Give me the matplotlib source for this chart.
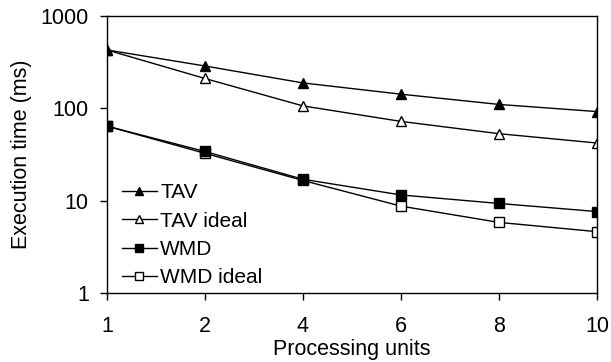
import numpy as np
import matplotlib.pyplot as plt

plt.rcParams['font.family'] = ['Liberation Sans', 'DejaVu Sans']

units = ['1', '2', '4', '6', '8', '10']
tav = [428, 287, 188, 142, 110, 92]
tav_ideal = [428, 210, 106, 72, 53, 42]
wmd = [64, 34, 17, 11.5, 9.3, 7.6]
wmd_ideal = [64, 32.5, 16.5, 8.7, 5.8, 4.6]

fig = plt.figure(figsize=(6.11, 3.62), dpi=100)
ax = fig.add_axes([0.175, 0.191, 0.802, 0.765])

x = np.arange(len(units))
# ideal lines first so the measured markers sit on top at x=1
l2, = ax.plot(x, tav_ideal, color='black', lw=1, marker='^', ms=7, mfc='white', mec='black', label='TAV ideal')
l4, = ax.plot(x, wmd_ideal, color='black', lw=1, marker='s', ms=6.5, mfc='white', mec='black', label='WMD ideal')
l1, = ax.plot(x, tav, color='black', lw=1, marker='^', ms=7.5, mfc='black', mec='black', label='TAV')
l3, = ax.plot(x, wmd, color='black', lw=1, marker='s', ms=7, mfc='black', mec='black', label='WMD')

ax.set_yscale('log')
ax.set_ylim(1, 1000)
ax.set_xlim(0, len(units) - 1)
ax.set_yticks([1, 10, 100, 1000])
ax.set_yticklabels(['1', '10', '100', '1000'])
ax.minorticks_off()
ax.set_xticks(x)
ax.set_xticklabels(units)
ax.tick_params(direction='out', length=5, width=1, labelsize=15.5)
ax.tick_params(axis='x', pad=12)
ax.tick_params(axis='y', pad=8)
for s in ax.spines.values():
    s.set_linewidth(1)

ax.set_xlabel('Processing units', fontsize=15.5, labelpad=1)
ax.set_ylabel('Execution time (ms)', fontsize=15.5, labelpad=6)

ax.legend([l1, l2, l3, l4], ['TAV', 'TAV ideal', 'WMD', 'WMD ideal'],
          loc='lower left', bbox_to_anchor=(0.03, 0.02), frameon=False, fontsize=15,
          handlelength=1.7, handletextpad=0.15, labelspacing=0.45, borderaxespad=0, borderpad=0,
          markerscale=0.8)

fig.savefig('out.png', dpi=100)
